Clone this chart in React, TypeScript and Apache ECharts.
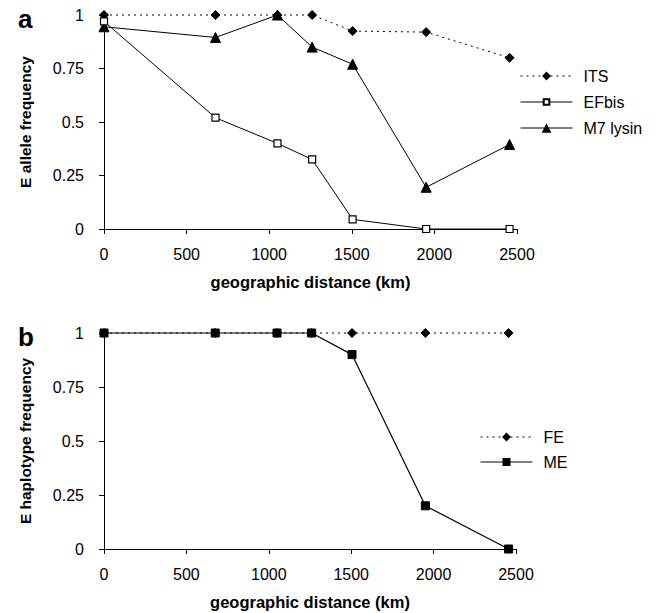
import React, { useEffect, useRef } from "react";
import * as echarts from "echarts";

const distances = [0, 675, 1050, 1260, 1505, 1950, 2455];
const itsValues = [1, 1, 1, 1, 0.925, 0.92, 0.8];
const efbisValues = [0.97, 0.52, 0.4, 0.325, 0.045, 0, 0];
const m7lysinValues = [0.945, 0.895, 1, 0.85, 0.77, 0.195, 0.395];
const feValues = [1, 1, 1, 1, 1, 1, 1];
const meValues = [1, 1, 1, 1, 0.9, 0.2, 0];

const xAxisTitle = "geographic distance (km)";
const yTitleA = "E allele frequency";
const yTitleB = "E haplotype frequency";

const FONT = "'Liberation Sans', Arial, Helvetica, sans-serif";

const pairs = (ys: number[]) => distances.map((d, i) => [d, ys[i]]);

function xAxisCfg(gridIndex: number) {
  return {
    type: "value",
    gridIndex,
    min: 0,
    max: 2500,
    interval: 500,
    name: xAxisTitle,
    nameLocation: "middle",
    nameGap: 44,
    nameTextStyle: { color: "#000", fontFamily: FONT, fontWeight: "bold", fontSize: 16.5 },
    axisLine: { show: true, onZero: false, lineStyle: { color: "#000", width: 1 } },
    axisTick: { show: true, inside: false, length: 5, lineStyle: { color: "#000" } },
    axisLabel: {
      color: "#000",
      fontFamily: FONT,
      fontSize: 16,
      margin: 17,
      formatter: (v: number) => String(v),
    },
    splitLine: { show: false },
  };
}

function yAxisCfg(gridIndex: number, name: string) {
  return {
    type: "value",
    gridIndex,
    min: 0,
    max: 1,
    interval: 0.25,
    name,
    nameLocation: "middle",
    nameGap: 71,
    nameTextStyle: { color: "#000", fontFamily: FONT, fontWeight: "bold", fontSize: 15.5, padding: [0, 0, 0, 0] },
    axisLine: { show: true, onZero: false, lineStyle: { color: "#000", width: 1 } },
    axisTick: { show: true, inside: false, length: 5, lineStyle: { color: "#000" } },
    axisLabel: {
      color: "#000",
      fontFamily: FONT,
      fontSize: 16,
      margin: 20,
      formatter: (v: number) => String(v),
    },
    splitLine: { show: false },
  };
}

function legendItem(name: string, left: number, centerY: number, iconH: number) {
  return {
    data: [name],
    left,
    top: centerY - 8,
    orient: "vertical",
    itemWidth: 52,
    itemHeight: iconH,
    itemGap: 0,
    padding: 0,
    selectedMode: false,
    lineStyle: { width: 1 },
    textStyle: { color: "#000", fontFamily: FONT, fontSize: 16, lineHeight: 16, padding: [0, 0, 0, 6] },
  };
}

export default function App() {
  const ref = useRef<HTMLDivElement>(null);
  useEffect(() => {
    if (!ref.current) return;
    const chart = echarts.init(ref.current, null, { renderer: "svg" });
    const black = "#000";
    chart.setOption({
      animation: false,
      backgroundColor: "#fff",
      grid: [
        { left: 104, top: 15, width: 413, height: 214 },
        { left: 104, top: 333, width: 412, height: 216 },
      ],
      xAxis: [xAxisCfg(0), xAxisCfg(1)],
      yAxis: [yAxisCfg(0, yTitleA), yAxisCfg(1, yTitleB)],
      legend: [
        legendItem("ITS", 520, 76, 11),
        legendItem("EFbis", 520, 102, 7),
        legendItem("M7 lysin", 520, 128, 12),
        legendItem("FE", 480, 437, 11),
        legendItem("ME", 480, 462, 10),
      ],
      graphic: [
        {
          type: "text",
          left: 18,
          top: 6,
          style: { text: "a", font: `bold 26px ${FONT}`, fill: black },
        },
        {
          type: "text",
          left: 18,
          top: 324,
          style: { text: "b", font: `bold 26px ${FONT}`, fill: black },
        },
      ],
      series: [
        {
          name: "ITS",
          type: "line",
          xAxisIndex: 0,
          yAxisIndex: 0,
          data: pairs(itsValues),
          symbol: "diamond",
          symbolSize: 9,
          clip: false,
          z: 2,
          lineStyle: { color: black, width: 1, type: [2, 4] },
          itemStyle: { color: black, borderColor: black },
        },
        {
          name: "EFbis",
          type: "line",
          xAxisIndex: 0,
          yAxisIndex: 0,
          data: pairs(efbisValues),
          symbol: "rect",
          symbolSize: 7,
          clip: false,
          z: 4,
          lineStyle: { color: black, width: 1 },
          itemStyle: { color: "#fff", borderColor: black, borderWidth: 1.2 },
        },
        {
          name: "M7 lysin",
          type: "line",
          xAxisIndex: 0,
          yAxisIndex: 0,
          data: pairs(m7lysinValues),
          symbol: "triangle",
          symbolSize: 10,
          clip: false,
          z: 3,
          lineStyle: { color: black, width: 1 },
          itemStyle: { color: black, borderColor: black },
        },
        {
          name: "FE",
          type: "line",
          xAxisIndex: 1,
          yAxisIndex: 1,
          data: pairs(feValues),
          symbol: "diamond",
          symbolSize: 9,
          clip: false,
          z: 2,
          lineStyle: { color: black, width: 1, type: [2, 4] },
          itemStyle: { color: black, borderColor: black },
        },
        {
          name: "ME",
          type: "line",
          xAxisIndex: 1,
          yAxisIndex: 1,
          data: pairs(meValues),
          symbol: "rect",
          symbolSize: 8,
          clip: false,
          z: 3,
          lineStyle: { color: black, width: 1.2 },
          itemStyle: { color: black, borderColor: black },
        },
      ],
    });
    return () => chart.dispose();
  }, []);
  return (
    <div
      ref={ref}
      style={{ position: "absolute", left: 0, top: 0, width: 660, height: 613, background: "#fff" }}
    />
  );
}
